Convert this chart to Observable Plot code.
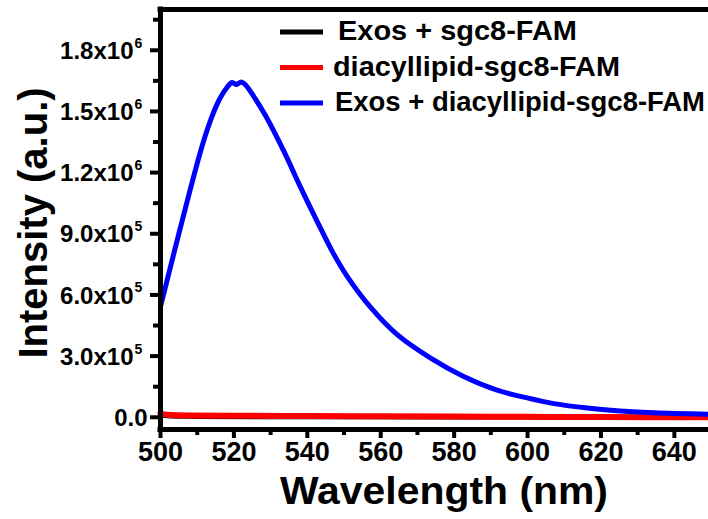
<!DOCTYPE html>
<html>
<head>
<meta charset="utf-8">
<script src="https://cdn.jsdelivr.net/npm/d3@7"></script>
<script src="https://cdn.jsdelivr.net/npm/@observablehq/plot@0.6"></script>
<style>
  html, body { margin: 0; padding: 0; background: #fff; }
  #chart { width: 708px; height: 519px; overflow: hidden; }
</style>
</head>
<body>
<div id="chart"></div>
<script>
// ---- data ----
const blueWavelength = [500, 504, 508, 511, 513.5, 515.8, 518, 519.5, 520.7, 522.0, 523.2, 524.5, 528.6, 533.6, 538.1, 542.7, 547.2, 550.9, 557.2, 564.5, 573.6, 582.6, 591.7, 599.9, 607.2, 616.3, 625.3, 634.4, 649.3];
const blueIntensity  = [542000, 830000, 1110000, 1310000, 1450000, 1550000, 1615000, 1642000, 1632000, 1645000, 1630000, 1598000, 1480000, 1305000, 1130000, 960000, 800000, 690000, 540000, 405000, 290000, 200000, 133000, 95000, 67000, 45000, 31000, 22000, 15000];

const redWavelength = [500, 501, 503, 508, 520, 540, 560, 580, 600, 620, 649.3];
const redIntensity  = [20000, 14000, 11000, 9000, 8000, 6000, 5000, 4000, 2000, 1000, 0];

const blackWavelength = [500, 502, 510, 550, 600, 649.3];
const blackIntensity  = [12000, 7000, 4000, 2000, 1000, 0];

const seriesNames  = ["Exos + sgc8-FAM", "diacyllipid-sgc8-FAM", "Exos + diacyllipid-sgc8-FAM"];
const seriesColors = ["#000000", "#ff0000", "#0000ff"];

const xMajorTicks = [500, 520, 540, 560, 580, 600, 620, 640];
const xMinorTicks = [510, 530, 550, 570, 590, 610, 630];
const yMajorTicks = [0, 300000, 600000, 900000, 1200000, 1500000, 1800000];
const yMinorTicks = [150000, 450000, 750000, 1050000, 1350000, 1650000, 1950000];
const yTickLabels = ["0.0", "3.0x10", "6.0x10", "9.0x10", "1.2x10", "1.5x10", "1.8x10"];
const yTickExps   = ["", "5", "5", "5", "6", "6", "6"];

const xTitle = "Wavelength (nm)";
const yTitle = "Intensity (a.u.)";

// ---- build tables ----
const toRows = (xs, ys) => xs.map((x, i) => ({x, y: ys[i]}));
const black = toRows(blackWavelength, blackIntensity);
const red = toRows(redWavelength, redIntensity);
const blue = toRows(blueWavelength, blueIntensity);
const yTicks = yMajorTicks.map((v, i) => ({v, label: yTickLabels[i], exp: yTickExps[i]}));

const FONT = "'Liberation Sans', Arial, Helvetica, sans-serif";
const X_DOMAIN = [500, 649.3];
const Y_DOMAIN = [-60000, 2000000];

const plot = Plot.plot({
  width: 708,
  height: 519,
  marginTop: 9,
  marginBottom: 90,
  marginLeft: 160,
  marginRight: 0,
  style: {fontFamily: FONT, fontWeight: "bold", background: "#fff", color: "#000", overflow: "visible"},
  x: {domain: X_DOMAIN, label: null},
  y: {domain: Y_DOMAIN, label: null},
  marks: [
    Plot.line(black, {x: "x", y: "y", stroke: seriesColors[0], strokeWidth: 5, curve: "catmull-rom"}),
    Plot.line(red, {x: "x", y: "y", stroke: seriesColors[1], strokeWidth: 6, curve: "catmull-rom"}),
    Plot.line(blue, {x: "x", y: "y", stroke: seriesColors[2], strokeWidth: 5, curve: "catmull-rom"}),
    // spines
    Plot.ruleX([X_DOMAIN[0]], {stroke: "#000", strokeWidth: 5, insetTop: -2.5, insetBottom: -2.5}),
    Plot.ruleY([Y_DOMAIN[0]], {stroke: "#000", strokeWidth: 5, insetLeft: -2.5}),
    Plot.ruleY([Y_DOMAIN[1]], {stroke: "#000", strokeWidth: 5, insetLeft: -2.5}),
    // x axis
    Plot.axisX({ticks: xMajorTicks, tickSize: 9, tickPadding: 3, strokeWidth: 4, fontSize: 27, fontWeight: "bold", tickFormat: d => String(d)}),
    Plot.axisX({ticks: xMinorTicks, tickSize: 6, strokeWidth: 4, text: null}),
    // y axis ticks
    Plot.axisY({ticks: yMajorTicks, tickSize: 10, strokeWidth: 4, text: null}),
    Plot.axisY({ticks: yMinorTicks, tickSize: 7, strokeWidth: 4, text: null}),
    // y tick labels with superscript exponents
    Plot.text(yTicks.filter(d => d.exp !== ""), {y: "v", text: "label", frameAnchor: "left", dx: -27, textAnchor: "end", fontSize: 24, fontWeight: "bold", lineAnchor: "middle", dy: 1}),
    Plot.text(yTicks.filter(d => d.exp !== ""), {y: "v", text: "exp", frameAnchor: "left", dx: -26, textAnchor: "start", fontSize: 14, fontWeight: "bold", lineAnchor: "middle", dy: -7}),
    Plot.text(yTicks.filter(d => d.exp === ""), {y: "v", text: "label", frameAnchor: "left", dx: -13, textAnchor: "end", fontSize: 24, fontWeight: "bold", lineAnchor: "middle", dy: 1})
  ]
});

const svg = d3.select(plot);

// axis titles
svg.append("text")
  .attr("x", 444).attr("y", 504)
  .attr("text-anchor", "middle")
  .attr("font-family", FONT).attr("font-weight", "bold").attr("font-size", 39)
  .attr("textLength", 328).attr("lengthAdjust", "spacingAndGlyphs")
  .attr("fill", "#000")
  .text(xTitle);

svg.append("text")
  .attr("transform", "translate(47,223) rotate(-90)")
  .attr("text-anchor", "middle")
  .attr("font-family", FONT).attr("font-weight", "bold").attr("font-size", 40)
  .attr("fill", "#000")
  .text(yTitle);

// legend
const legendY = [32, 67.5, 103];
const legendTextX = [338, 333, 335];
const legendTextLen = [239, 287, 370];
const lg = svg.append("g");
seriesNames.forEach((name, i) => {
  lg.append("line")
    .attr("x1", 280).attr("x2", 323)
    .attr("y1", legendY[i]).attr("y2", legendY[i])
    .attr("stroke", seriesColors[i]).attr("stroke-width", 5);
  lg.append("text")
    .attr("x", legendTextX[i]).attr("y", legendY[i] + 8)
    .attr("text-anchor", "start")
    .attr("font-family", FONT).attr("font-weight", "bold").attr("font-size", 27)
    .attr("textLength", legendTextLen[i]).attr("lengthAdjust", "spacingAndGlyphs")
    .attr("fill", "#000")
    .text(name);
});

document.getElementById("chart").appendChild(plot);
</script>
</body>
</html>
